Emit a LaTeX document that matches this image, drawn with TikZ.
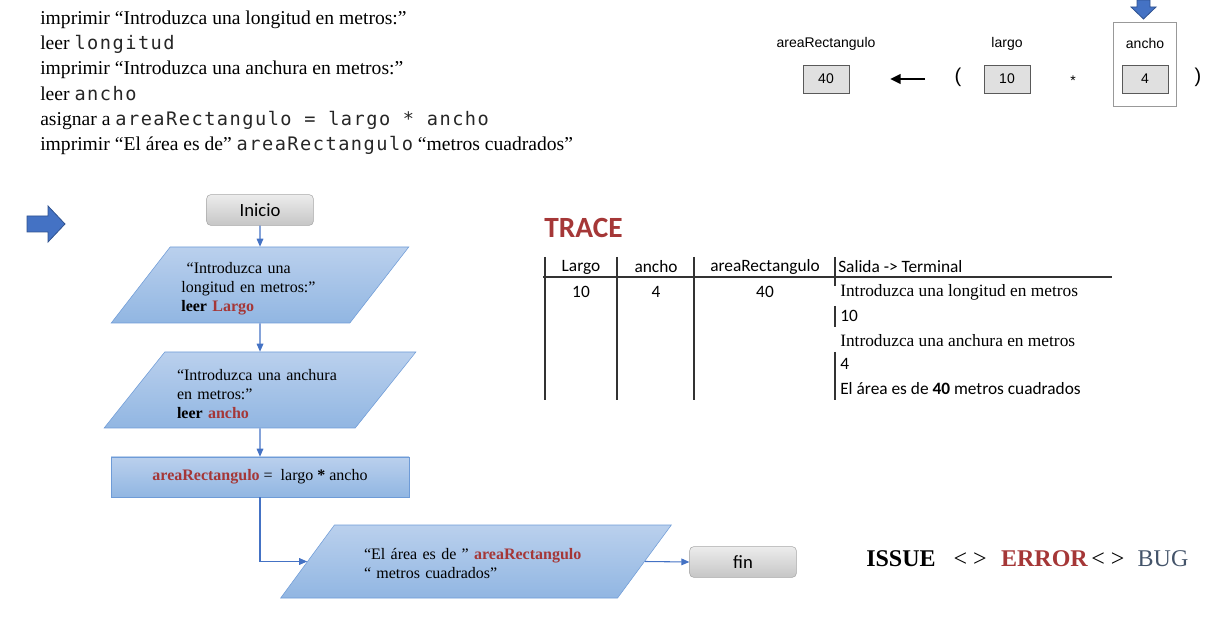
\documentclass[tikz,border=0pt]{standalone}
\usepackage{fontspec}
\setmainfont{Liberation Serif}
\newfontfamily\calibfont{Carlito}
\newfontfamily\arialfont{Liberation Sans}
\newfontfamily\codefont[LetterSpace=8,Scale=0.95]{DejaVu Sans Mono}
\usetikzlibrary{shapes.geometric,arrows.meta}
\definecolor{flowblue}{RGB}{68,114,196}
\definecolor{flowedge}{RGB}{110,155,215}
\definecolor{flowtop}{RGB}{186,208,237}
\definecolor{flowbot}{RGB}{145,182,226}
\definecolor{varred}{RGB}{165,55,55}
\definecolor{bugblue}{RGB}{68,84,106}
\definecolor{termtop}{RGB}{236,236,236}
\definecolor{termbot}{RGB}{198,198,198}
\definecolor{arrowdark}{RGB}{47,82,143}

\begin{document}
\begin{tikzpicture}[
        x=0.75pt, y=-0.75pt,
        term/.style={draw=black!35, rounded corners=3pt, top color=termtop, bottom color=termbot,
            minimum width=80pt, minimum height=23pt, font=\calibfont\fontsize{14}{16}\selectfont},
        iobox/.style={trapezium, trapezium stretches=true, draw=flowedge, top color=flowtop,
            bottom color=flowbot, align=left, font=\fontsize{12}{14.25}\selectfont},
        procbox/.style={rectangle, draw=flowedge, top color=flowtop, bottom color=flowbot,
            minimum width=223.5pt, minimum height=30pt, font=\fontsize{12}{14}\selectfont},
        flow/.style={draw=flowblue, line width=0.8pt, -{Triangle[length=6pt,width=5pt]}},
        varbox/.style={draw=black!65, fill=black!12, minimum width=34.5pt, minimum height=21pt,
            font=\arialfont\fontsize{10.5}{12}\selectfont},
        varlbl/.style={font=\arialfont\fontsize{10.5}{12}\selectfont},
        paren/.style={font=\arialfont\fontsize{15}{18}\selectfont},
        codeline/.style={anchor=base west, inner sep=0pt, font=\fontsize{14.7}{17}\selectfont},
        hcell/.style={font=\calibfont\fontsize{13}{15}\selectfont},
        ocell/.style={anchor=west, inner sep=0pt, font=\fontsize{13}{15}\selectfont},
        tline/.style={draw=black!80, line width=0.8pt},
        blockarrow/.style={fill=flowblue, draw=arrowdark, line width=0.6pt},
    ]
    \useasboundingbox (0,0) rectangle (1213,630);

    % pseudocode
    \node[codeline] (l1) at (40,25) {imprimir “Introduzca una longitud en metros:”};
    \node[codeline] (l2) at (40,50) {leer {\codefont\color{black!85}longitud}};
    \node[codeline] (l3) at (40,75) {imprimir “Introduzca una anchura en metros:”};
    \node[codeline] (l4) at (40,101) {leer {\codefont\color{black!85}ancho}};
    \node[codeline] (l5) at (40,126) {asignar a {\codefont\color{black!85}areaRectangulo = largo * ancho}};
    \node[codeline] (l6) at (40,151) {imprimir “El área es de” {\codefont\color{black!85}areaRectangulo} “metros cuadrados”};

    % memory boxes
    \node[varlbl] (lblArea) at (826,44) {areaRectangulo};
    \node[varbox] (valArea) at (826,79) {40};
    \node[paren] (popen) at (958,77) {(};
    \node[varlbl] (lblLargo) at (1007,44) {largo};
    \node[varbox] (valLargo) at (1007,79) {10};
    \node[varlbl] (times) at (1073,81) {*};
    \node[draw=black!40, minimum width=47.25pt, minimum height=63pt] (frmAncho) at (1144.5,64) {};
    \node[varlbl] (lblAncho) at (1145,44) {ancho};
    \node[varbox] (valAncho) at (1145,79) {4};
    \node[paren] (pclose) at (1198,77) {)};
    \coordinate (asgS) at (925,79);
    \coordinate (asgE) at (890,79);
    \draw[line width=2pt, -{Triangle[length=8pt,width=7pt]}] (asgS) -- (asgE);
    \path[blockarrow] (1137,0) -- (1150,0) -- (1150,7) -- (1156,7) -- (1143.5,19)
        -- (1131,7) -- (1137,7) -- cycle;

    % flowchart
    \path[blockarrow] (27,216) -- (48,216) -- (48,206) -- (65,224) -- (48,242)
        -- (48,232) -- (27,232) -- cycle;
    \node[term] (start) at (260,210) {Inicio};
    \node[iobox, minimum width=223.5pt, minimum height=57pt, text width=118pt,
        trapezium left angle=52, trapezium right angle=128] (in1) at (260,285)
        {\rule{0pt}{14.5pt}\ “Introduzca una\\longitud en metros:”\\\textbf{leer \textcolor{varred}{Largo}}};
    \node[iobox, minimum width=234pt, minimum height=57pt, text width=124.5pt,
        trapezium left angle=50, trapezium right angle=130] (in2) at (260,390)
        {\rule{0pt}{14.5pt}“Introduzca una anchura\\en metros:”\\\textbf{leer \textcolor{varred}{ancho}}};
    \node[procbox] (calc) at (260,477)
        {\textbf{\textcolor{varred}{areaRectangulo}} =\ \ largo \textbf{*} ancho};
    \node[iobox, minimum width=294pt, minimum height=54.75pt, text width=168pt,
        trapezium left angle=44, trapezium right angle=136] (out) at (476,561.5)
        {\rule{0pt}{11pt}“El área es de ” \textbf{\textcolor{varred}{areaRectangulo}}\\“ metros cuadrados”};
    \node[term] (fin) at (743,562) {fin};

    \draw[flow] (start) -- (in1);
    \draw[flow] (in1) -- (in2);
    \draw[flow] (in2) -- (calc);
    \draw[flow] (calc.south) |- (out.west);
    \draw[flow] (out.east) -- (fin.west);

    % trace table
    \node[anchor=west, inner sep=0pt, text=varred, font=\calibfont\bfseries\fontsize{22}{24}\selectfont]
        (trace) at (544,228) {TRACE};
    \draw[tline] (545,257) -- (545,400);
    \draw[tline] (617,257) -- (617,400);
    \draw[tline] (694,257) -- (694,400);
    \draw[tline] (835,257) -- (835,286);
    \draw[tline] (835,306) -- (835,327);
    \draw[tline] (835,352) -- (835,400);
    \draw[tline] (543,277) -- (1112,277);
    \node[hcell] (hLargo) at (581,267) {Largo};
    \node[hcell] (hAncho) at (656,267) {ancho};
    \node[hcell] (hArea) at (765,267) {areaRectangulo};
    \node[hcell, anchor=west, inner sep=0pt] (hSalida) at (838,267) {Salida -> Terminal};
    \node[hcell] (vLargo) at (581,292) {10};
    \node[hcell] (vAncho) at (656,292) {4};
    \node[hcell] (vArea) at (765,292) {40};
    \node[ocell] (o1) at (840,292) {Introduzca una longitud en metros};
    \node[ocell, font=\calibfont\fontsize{13}{15}\selectfont] (o2) at (840,316) {10};
    \node[ocell] (o3) at (840,341) {Introduzca una anchura en metros};
    \node[ocell, font=\calibfont\fontsize{13}{15}\selectfont] (o4) at (840,364) {4};
    \node[ocell, font=\calibfont\fontsize{13}{15}\selectfont] (o5) at (840,389)
        {El área es de \textbf{40} metros cuadrados};

    \node[anchor=west, inner sep=0pt, font=\fontsize{18}{20}\selectfont] (issue) at (866,559)
        {\textbf{ISSUE}\hspace{0.75em}<\ >\hspace{0.6em}\textbf{\textcolor{varred}{ERROR}}\hspace{0.15em}<\ >\hspace{0.55em}\textcolor{bugblue}{BUG}};
\end{tikzpicture}
\end{document}
